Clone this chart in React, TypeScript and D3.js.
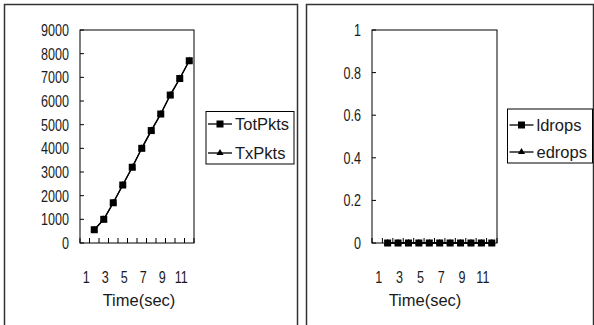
import React from "react";
import * as d3 from "d3";

const categories = ["1", "2", "3", "4", "5", "6", "7", "8", "9", "10", "11", "12"];
const totPkts: (number | null)[] = [null, 560, 1000, 1700, 2450, 3200, 4000, 4750, 5450, 6250, 6950, 7700];
const txPkts: (number | null)[] = [null, 560, 1000, 1700, 2450, 3200, 4000, 4750, 5450, 6250, 6950, 7700];
const lDrops: (number | null)[] = [null, 0, 0, 0, 0, 0, 0, 0, 0, 0, 0, 0];
const eDrops: (number | null)[] = [null, 0, 0, 0, 0, 0, 0, 0, 0, 0, 0, 0];
const leftYTicks = [0, 1000, 2000, 3000, 4000, 5000, 6000, 7000, 8000, 9000];
const rightYTicks = [0, 0.2, 0.4, 0.6, 0.8, 1];
const xTickLabels = ["1", "3", "5", "7", "9", "11"];
const xTitle = "Time(sec)";
const leftNames = ["TotPkts", "TxPkts"];
const rightNames = ["ldrops", "edrops"];

const FONT = "'Liberation Sans', Arial, sans-serif";
const SQX = 0.74;

function Num({ x, y, anchor, children }: { x: number; y: number; anchor: string; children: React.ReactNode }) {
  return (
    <text transform={`translate(${x},${y}) scale(${SQX},1)`} textAnchor={anchor} fontFamily={FONT} fontSize={17} fill="#1a1a1a">
      {children}
    </text>
  );
}

type PanelProps = {
  frame: [number, number, number];
  plot: { l: number; r: number; t: number; b: number };
  yMax: number;
  yTicks: number[];
  series: (number | null)[][];
  names: string[];
  legend: { x: number; y: number; w: number; h: number; rows: number[] };
  titleX: number;
};

function Panel(p: PanelProps) {
  const { plot } = p;
  const x = d3.scaleBand<string>().domain(categories).range([plot.l, plot.r]).padding(0);
  const y = d3.scaleLinear().domain([0, p.yMax]).range([plot.b, plot.t]);
  const bw = x.bandwidth();
  const cx = (c: string) => (x(c) as number) + bw / 2;
  const line = d3
    .line<number | null>()
    .defined((d) => d !== null)
    .x((_, i) => cx(categories[i]))
    .y((d) => y(d as number));
  const bounds = categories.map((c) => x(c) as number).concat([plot.r]);
  const tri = d3.symbol().type(d3.symbolTriangle).size(22)() || "";
  const [fx, fy, fw] = p.frame;
  return (
    <g>
      <rect x={fx} y={fy} width={fw} height={400} fill="#fff" stroke="#333" strokeWidth={1.5} />
      <rect x={plot.l} y={plot.t} width={plot.r - plot.l} height={plot.b - plot.t} fill="#fff" stroke="#000" strokeWidth={1} />
      {p.yTicks.map((t) => (
        <g key={t}>
          <line x1={plot.l} x2={plot.l + 4} y1={y(t)} y2={y(t)} stroke="#000" />
          <Num x={plot.l - 11} y={y(t) + 6} anchor="end">
            {String(t)}
          </Num>
        </g>
      ))}
      {bounds.map((b, i) => (
        <line key={i} x1={b} x2={b} y1={plot.b} y2={plot.b - 5} stroke="#000" />
      ))}
      {xTickLabels.map((l) => (
        <Num key={l} x={cx(l) + 1.5} y={283} anchor="middle">
          {l}
        </Num>
      ))}
      <text x={p.titleX} y={306} textAnchor="middle" fontFamily={FONT} fontSize={16.5} fill="#1a1a1a">
        {xTitle}
      </text>
      {p.series.map((s, si) => (
        <g key={si}>
          <path d={line(s) || ""} fill="none" stroke="#000" strokeWidth={1.3} />
          {s.map((v, i) =>
            v === null ? null : si === 0 ? (
              <rect key={i} x={cx(categories[i]) - 3.5} y={y(v) - 3.5} width={7} height={7} fill="#000" />
            ) : (
              <path key={i} d={tri} transform={`translate(${cx(categories[i])},${y(v)})`} fill="#000" />
            )
          )}
        </g>
      ))}
      <rect x={p.legend.x} y={p.legend.y} width={p.legend.w} height={p.legend.h} fill="#fff" stroke="#000" strokeWidth={1} />
      {p.names.map((n, i) => {
        const ry = p.legend.rows[i];
        const lx = p.legend.x + 2;
        return (
          <g key={n}>
            <line x1={lx} x2={lx + 24} y1={ry} y2={ry} stroke="#000" strokeWidth={1.3} />
            {i === 0 ? (
              <rect x={lx + 12 - 3.5} y={ry - 3.5} width={7} height={7} fill="#000" />
            ) : (
              <path d={tri} transform={`translate(${lx + 12},${ry})`} fill="#000" />
            )}
            <text x={lx + 27} y={ry + 6} fontFamily={FONT} fontSize={16.5} fill="#1a1a1a">
              {n}
            </text>
          </g>
        );
      })}
    </g>
  );
}

export default function App() {
  return (
    <svg width={594} height={325} style={{ position: "absolute", left: 0, top: 0, background: "#fff" }}>
      <Panel
        frame={[4.5, 4.5, 293]}
        plot={{ l: 80, r: 194, t: 30, b: 243 }}
        yMax={9000}
        yTicks={leftYTicks}
        series={[totPkts, txPkts]}
        names={leftNames}
        legend={{ x: 206, y: 111.5, w: 88, h: 52.5, rows: [124, 153] }}
        titleX={139}
      />
      <Panel
        frame={[306.5, 4.5, 287]}
        plot={{ l: 372, r: 497, t: 30, b: 243 }}
        yMax={1}
        yTicks={rightYTicks}
        series={[lDrops, eDrops]}
        names={rightNames}
        legend={{ x: 507.5, y: 109, w: 85, h: 54, rows: [125, 152] }}
        titleX={425}
      />
    </svg>
  );
}
